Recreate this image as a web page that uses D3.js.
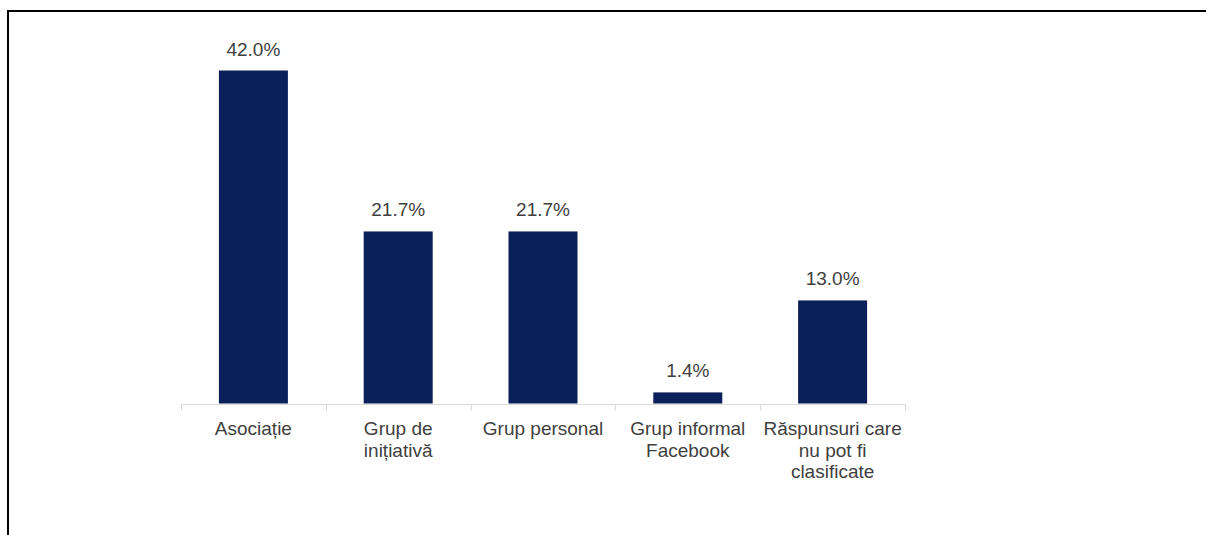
<!DOCTYPE html>
<html><head><meta charset="utf-8">
<script src="https://cdn.jsdelivr.net/npm/d3@7"></script>
<style>html,body{margin:0;padding:0;background:#fff;}svg{display:block;}</style>
</head><body>
<svg id="c" width="1206" height="535"></svg>
<script>
const categories = [["Asociație"], ["Grup de", "inițiativă"], ["Grup personal"], ["Grup informal", "Facebook"], ["Răspunsuri care", "nu pot fi", "clasificate"]];
const values = [42.0, 21.7, 21.7, 1.4, 13.0];
const valueLabels = ["42.0%", "21.7%", "21.7%", "1.4%", "13.0%"];

const svg = d3.select("#c");
// frame
svg.append("line").attr("x1",7).attr("x2",1206).attr("y1",11).attr("y2",11).attr("stroke","#000").attr("stroke-width",2);
svg.append("line").attr("x1",8).attr("x2",8).attr("y1",10).attr("y2",535).attr("stroke","#000").attr("stroke-width",2);

const keys = categories.map((d,i)=>i);
const x = d3.scaleBand().domain(keys).range([181,905]).paddingInner(0).paddingOuter(0);
const y = d3.scaleLinear().domain([0,42]).range([403.5,70.5]);
const bw = 69;
const font = "'Liberation Sans', Arial, sans-serif";

svg.selectAll("rect.bar").data(values).enter().append("rect")
  .attr("x",(d,i)=>x(i)+x.bandwidth()/2-bw/2)
  .attr("y",d=>y(d))
  .attr("width",bw)
  .attr("height",d=>y(0)-y(d))
  .attr("fill","#0b1f5b");

// axis
const axisY = 404.5;
svg.append("line").attr("x1",181).attr("x2",905).attr("y1",axisY).attr("y2",axisY).attr("stroke","#d9d9d9").attr("stroke-width",1);
const tickPos = keys.map(i=>x(i)).concat([x(keys.length-1)+x.bandwidth()]);
svg.selectAll("line.tick").data(tickPos).enter().append("line")
  .attr("x1",d=>Math.round(d)+0.5).attr("x2",d=>Math.round(d)+0.5)
  .attr("y1",axisY).attr("y2",axisY+6).attr("stroke","#d9d9d9");

// value labels
svg.selectAll("text.val").data(values).enter().append("text")
  .attr("x",(d,i)=>x(i)+x.bandwidth()/2)
  .attr("y",d=>y(d)-15)
  .attr("text-anchor","middle")
  .attr("font-family",font).attr("font-size",19).attr("fill","#404040")
  .text((d,i)=>valueLabels[i]);

// category labels
const cl = svg.selectAll("text.cat").data(categories).enter().append("text")
  .attr("text-anchor","middle")
  .attr("font-family",font).attr("font-size",19).attr("fill","#404040");
cl.each(function(lines,i){
  const t = d3.select(this);
  lines.forEach((ln,j)=>{
    t.append("tspan").attr("x",x(i)+x.bandwidth()/2).attr("y",435+j*21.5).text(ln);
  });
});
</script>
</body></html>
